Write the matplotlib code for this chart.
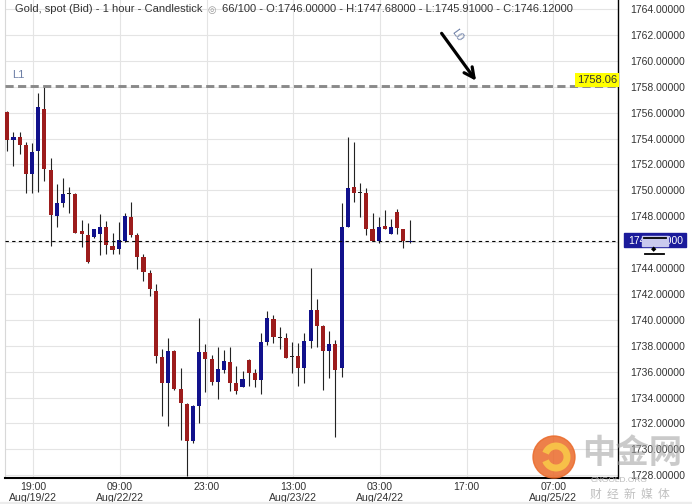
import matplotlib
matplotlib.use("Agg")
import matplotlib.pyplot as plt
from matplotlib.patches import Rectangle, Circle, Arc
from matplotlib import transforms
import numpy as np

plt.rcParams['font.family'] = ['Liberation Sans', 'Noto Sans CJK SC', 'DejaVu Sans']

# hourly OHLC, 66 candles
opens = [1756.03, 1753.89, 1754.10, 1753.50, 1751.26, 1753.06, 1756.28, 1751.57, 1748.05, 1749.05,
         1749.80, 1749.72, 1746.86, 1746.55, 1746.42, 1746.63, 1747.20, 1745.70, 1745.50, 1746.11,
         1747.93, 1746.56, 1744.88, 1743.60, 1742.23, 1737.16, 1735.15, 1737.60, 1734.64, 1733.50,
         1730.67, 1733.35, 1737.50, 1736.98, 1735.23, 1736.13, 1736.72, 1735.15, 1734.84, 1736.90,
         1735.92, 1735.36, 1738.32, 1740.07, 1738.62, 1738.62, 1737.15, 1737.20, 1736.30, 1738.40,
         1740.76, 1739.53, 1737.63, 1738.12, 1736.26, 1747.20, 1750.24, 1749.83, 1749.78, 1747.02,
         1746.09, 1747.25, 1746.61, 1748.36, 1746.99, 1746.00]
highs = [1756.10, 1754.53, 1754.53, 1753.76, 1753.69, 1757.54, 1758.00, 1752.48, 1750.50, 1750.93,
         1750.24, 1749.80, 1747.71, 1747.50, 1747.05, 1748.18, 1747.66, 1746.69, 1747.58, 1748.28,
         1749.08, 1746.69, 1745.09, 1743.85, 1742.75, 1737.73, 1738.58, 1737.65, 1736.26, 1733.55,
         1733.40, 1740.12, 1738.14, 1737.29, 1737.93, 1737.67, 1737.93, 1736.43, 1736.05, 1736.95,
         1736.20, 1738.97, 1740.69, 1740.38, 1739.42, 1738.97, 1738.32, 1738.19, 1738.97, 1743.98,
         1741.59, 1739.60, 1739.14, 1738.45, 1749.00, 1754.15, 1753.72, 1750.59, 1750.16, 1748.23,
         1747.93, 1748.49, 1747.77, 1748.56, 1747.00, 1747.68]
lows = [1753.06, 1751.90, 1752.80, 1749.82, 1749.82, 1749.90, 1750.75, 1745.73, 1747.20, 1748.70,
        1748.28, 1746.70, 1745.60, 1744.40, 1746.35, 1745.00, 1745.09, 1745.09, 1745.06, 1746.04,
        1746.43, 1743.93, 1743.03, 1741.84, 1736.65, 1732.58, 1731.80, 1734.55, 1730.70, 1727.95,
        1730.50, 1732.00, 1734.40, 1734.97, 1733.89, 1735.88, 1734.50, 1734.25, 1734.80, 1734.92,
        1734.84, 1734.30, 1738.06, 1738.24, 1737.74, 1737.04, 1735.92, 1734.92, 1735.15, 1737.80,
        1737.93, 1734.58, 1735.49, 1730.98, 1735.62, 1747.20, 1749.13, 1747.97, 1746.55, 1746.09,
        1745.96, 1747.00, 1746.60, 1746.63, 1745.53, 1745.91]
closes = [1753.89, 1754.10, 1753.50, 1751.26, 1752.99, 1756.46, 1751.63, 1748.10, 1749.00, 1749.72,
          1749.75, 1746.73, 1746.63, 1744.49, 1747.00, 1747.20, 1745.78, 1745.40, 1746.17, 1748.02,
          1746.56, 1744.88, 1743.67, 1742.36, 1737.23, 1735.15, 1737.60, 1734.70, 1733.56, 1730.67,
          1733.35, 1737.50, 1736.96, 1735.23, 1736.21, 1736.82, 1735.15, 1734.51, 1735.43, 1735.92,
          1735.36, 1738.32, 1740.18, 1738.65, 1738.60, 1737.08, 1737.10, 1736.30, 1738.40, 1740.76,
          1739.53, 1737.63, 1738.12, 1736.13, 1747.20, 1750.16, 1749.78, 1749.80, 1747.00, 1746.11,
          1747.20, 1747.02, 1747.15, 1747.08, 1746.11, 1746.12]

tick_pos = [4.2, 18.2, 32.2, 46.2, 60.2, 74.2, 88.2]
tick_labels = ["19:00\nAug/19/22", "09:00\nAug/22/22", "23:00", "13:00\nAug/23/22",
               "03:00\nAug/24/22", "17:00", "07:00\nAug/25/22"]
price_ticks = np.arange(1728, 1766, 2)
line_L1 = 1758.06
last_price = 1746.12
header_a = "Gold, spot (Bid) - 1 hour - Candlestick"
header_b = "66/100 - O:1746.00000 - H:1747.68000 - L:1745.91000 - C:1746.12000"

W, H = 692, 504
fig = plt.figure(figsize=(W / 100, H / 100), dpi=100)
ax = fig.add_axes([5 / W, 26 / H, 613 / W, 478 / H])
ax.set_xlim(-0.37, 98.66)
ax.set_ylim(1727.79, 1764.70)

x = np.arange(len(opens))
o = np.array(opens); c = np.array(closes)
bottoms = np.minimum(o, c)
heights = np.abs(c - o)
colors = np.where(c >= o, '#11118c', '#9c1c1c')
doji = heights < 0.08
colors = np.where(doji, '#222222', colors)
heights = np.where(doji, 0.08, heights)

ax.vlines(x, lows, highs, color='#222222', lw=0.8, zorder=2)
ax.bar(x, heights, bottom=bottoms, width=0.66, color=colors, zorder=3)

ax.axhline(line_L1, color='#8a8a8a', lw=2.1, dashes=(2.8, 1.5), zorder=4)
ax.axhline(last_price, color='black', lw=0.8, dashes=(3, 3), zorder=4)

tr = transforms.blended_transform_factory(ax.transAxes, ax.transData)
ax.text(0.998, line_L1 + 0.05, "1758.06", transform=tr, ha='right', va='bottom',
        fontsize=8, color='#333333', zorder=6,
        bbox=dict(fc='#ffff00', ec='none', pad=1.4))

ax.annotate('', xy=(76.0, 1758.29), xytext=(69.9, 1762.3),
            arrowprops=dict(arrowstyle='->', lw=2.3, color='black', mutation_scale=18))

ax.set_xticks(tick_pos)
ax.set_xticklabels(tick_labels, fontsize=7.6, color='#333333', linespacing=1.05)
ax.set_yticks(price_ticks)
ax.set_yticklabels(["" if p == 1746 else f"{p:.5f}" for p in price_ticks],
                   fontsize=7.5, color='#333333')
ax.yaxis.tick_right()
ax.tick_params(axis='y', length=0, pad=8.5)
ax.tick_params(axis='x', length=0, pad=3)
ax.grid(True, color='#e4e4e4', lw=0.8)
ax.set_axisbelow(True)
ax.spines['top'].set_visible(False)
ax.spines['left'].set_color('#d8d8d8')
ax.spines['right'].set_color('black')
ax.spines['right'].set_linewidth(1.0)
ax.spines['bottom'].set_color('black')
ax.spines['bottom'].set_linewidth(1.5)

# overlay in pixel coords for decorations
ov = fig.add_axes([0, 0, 1, 1], zorder=5)
ov.set_xlim(0, W)
ov.set_ylim(H, 0)
ov.axis('off')
ov.patch.set_alpha(0)

ov.text(15, 9, header_a, va='center', fontsize=8, color='#333333')
ov.text(212, 9.5, "◎", va='center', ha='center', fontsize=7, color='#999999',
        family='DejaVu Sans')
ov.text(222, 9, header_b, va='center', fontsize=8, color='#333333')
ov.text(18, 75.5, "L1", ha='center', va='center', fontsize=8, color='#6d7fa6')
ov.text(457, 35, "L0", ha='center', va='center', fontsize=8, rotation=-54, color='#6d7fa6')

# last price box on the right scale
ov.add_patch(Rectangle((624, 233), 62, 14, color='#1b1b9b', zorder=6))
ov.text(628, 240.5, "1746.12000", va='center', fontsize=7.5, color='white', zorder=7)
ov.add_patch(Rectangle((642, 236), 26, 10, color='#c9c9ee', zorder=8))
ov.plot([644, 666], [237.5, 237.5], color='black', lw=1.3, zorder=9)
ov.text(654, 249, "◆", ha='center', va='center', fontsize=5, color='black',
        family='DejaVu Sans', zorder=9)
ov.plot([645, 664], [254, 254], color='black', lw=1.3, zorder=9)

# watermark
ov.add_patch(Circle((554, 457), 21, color='#ea6a2a', alpha=0.85, zorder=1))
ov.add_patch(Arc((556, 457), 22, 22, theta1=200, theta2=520, color='#f7c048', lw=5, zorder=2))
ov.text(632, 454, "中金网", ha='center', va='center', fontsize=24, fontweight='bold',
        color='#a0a0a0', alpha=0.55, family='Noto Sans CJK SC')
ov.text(591, 480, "CNGOLD.ORG", va='center', fontsize=6, color='#bbbbbb')
ov.text(590, 494, "财  经  新  媒  体", va='center', fontsize=8.5, color='#c0c0c0',
        family='Noto Sans CJK SC')

ov.add_patch(Rectangle((0, 502), W, 2, color='#ececec', zorder=0))

fig.savefig("out.png", dpi=100)
